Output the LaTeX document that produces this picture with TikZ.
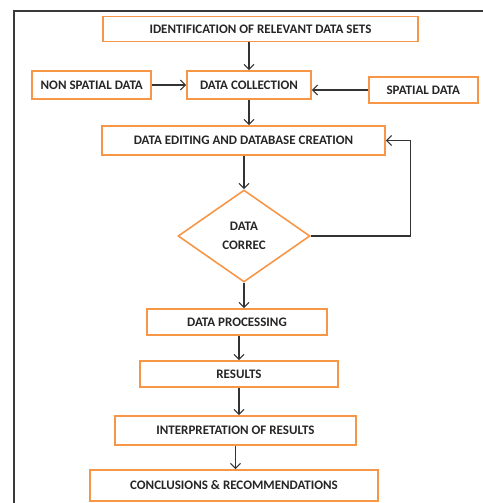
\documentclass[tikz,border=0pt]{standalone}
\usepackage{fontspec}
\setmainfont{Carlito}
\usetikzlibrary{arrows.meta,positioning,shapes.geometric}
\definecolor{boxOrange}{HTML}{F79646}
\definecolor{frameGray}{HTML}{3A3A3A}

\begin{document}
\begin{tikzpicture}[node distance=0.52cm,
            box/.style={draw=boxOrange,line width=1pt,fill=white,
                        minimum width=#1,minimum height=0.54cm,align=center,
                        font=\fontsize{7.4}{9}\selectfont\bfseries,text=black!85},
            box/.default=3cm,
            decision/.style={diamond,draw=boxOrange,line width=0.9pt,fill=white,
                        minimum width=2.64cm,minimum height=1.84cm,inner sep=0pt,aspect=1.43,
                        align=center,font=\fontsize{7.4}{11}\selectfont\bfseries,text=black!85},
            arrow/.style={-{Straight Barb[length=1mm,width=2mm]},line width=0.6pt,draw=black!80},
            frame/.style={line width=1.2pt,draw=frameGray}]
            \useasboundingbox (0,0) rectangle (9.66,-10.06);
            \draw[frame] (0.28,-10.06) |- (9.66,-0.22);
            \node[box=6.3cm,minimum height=0.5cm] (ident) at (5.21,-0.58) {IDENTIFICATION OF RELEVANT DATA SETS};
            \node[box=2.48cm,minimum height=0.56cm] (collect) at (4.98,-1.70) {DATA COLLECTION};
            \node[box=2.38cm,minimum height=0.56cm,left=0.68cm of collect] (nonspatial) {NON SPATIAL DATA};
            \node[box=2.18cm,minimum height=0.52cm,right=1.12cm of collect,yshift=-0.1cm] (spatial) {SPATIAL DATA};
            \node[box=5.66cm,minimum height=0.58cm] (editing) at (4.87,-2.81) {DATA EDITING AND DATABASE CREATION};
            \node[decision] (correct) at (4.88,-4.72) {DATA\\CORREC};
            \node[box=3.6cm,minimum height=0.52cm] (process) at (4.74,-6.44) {DATA PROCESSING};
            \node[box=3.96cm,minimum height=0.52cm] (results) at (4.78,-7.48) {RESULTS};
            \node[box=4.82cm,minimum height=0.58cm] (interpret) at (4.71,-8.61) {INTERPRETATION OF RESULTS};
            \node[box=5.76cm,minimum height=0.62cm] (conclude) at (4.68,-9.71) {CONCLUSIONS \& RECOMMENDATIONS};
            \draw[arrow] (collect.north |- ident.south)--(collect.north);
            \draw[arrow] (nonspatial.east)--(collect.west |- nonspatial.east);
            \draw[arrow] (spatial.west)--(collect.east |- spatial.west);
            \draw[arrow] (collect.south)--(collect.south |- editing.north);
            \draw[arrow] (correct.north |- editing.south)--(correct.north);
            \draw[arrow] (correct.east)--++(2,0) |- (editing.east);
            \draw[arrow] (correct.south)--(correct.south |- process.north);
            \draw[arrow] (results.north |- process.south)--(results.north);
            \draw[arrow] (results.south)--(results.south |- interpret.north);
            \draw[arrow] (interpret.south)--(interpret.south |- conclude.north);
        \end{tikzpicture}
\end{document}
